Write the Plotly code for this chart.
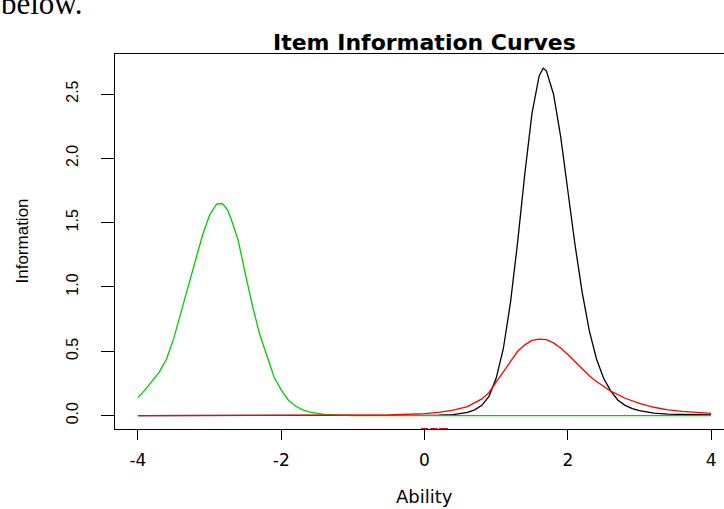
import plotly.graph_objects as go

# ---- data ----
black_x = [-4.0, -2.0, 0.0, 0.2, 0.4, 0.6, 0.7, 0.8, 0.9, 1.0, 1.1, 1.2, 1.3, 1.4, 1.5, 1.6, 1.656,
           1.7, 1.8, 1.9, 2.0, 2.1, 2.2, 2.3, 2.4, 2.5, 2.6, 2.7, 2.8, 2.9, 3.0, 3.2, 3.4, 3.6, 3.8, 4.0]
black_y = [0.0, 0.0, 0.001, 0.003, 0.008, 0.025, 0.045, 0.08, 0.15, 0.29, 0.52, 0.88, 1.35, 1.88, 2.35, 2.64, 2.70,
           2.68, 2.50, 2.17, 1.75, 1.33, 0.96, 0.66, 0.44, 0.29, 0.19, 0.12, 0.08, 0.055, 0.038, 0.02, 0.012, 0.008, 0.006, 0.005]

red_x = [-4.0, -2.0, -1.0, -0.5, 0.0, 0.2, 0.4, 0.6, 0.8, 0.9, 1.0, 1.1, 1.2, 1.3, 1.4, 1.5, 1.6, 1.7, 1.8, 1.9,
         2.0, 2.1, 2.2, 2.3, 2.4, 2.5, 2.6, 2.8, 3.0, 3.2, 3.4, 3.6, 3.8, 4.0]
red_y = [0.0, 0.0005, 0.002, 0.005, 0.015, 0.025, 0.042, 0.07, 0.13, 0.18, 0.26, 0.34, 0.42, 0.50, 0.55, 0.585, 0.595, 0.59, 0.565, 0.525,
         0.475, 0.42, 0.365, 0.31, 0.265, 0.225, 0.19, 0.135, 0.095, 0.065, 0.045, 0.033, 0.024, 0.018]

green_x = [-4.0, -3.9, -3.8, -3.7, -3.6, -3.5, -3.4, -3.3, -3.2, -3.1, -3.0, -2.9, -2.82, -2.75, -2.7, -2.6, -2.5,
           -2.4, -2.3, -2.2, -2.1, -2.0, -1.9, -1.8, -1.7, -1.6, -1.5, -1.4, -1.2, -1.0, 0.0, 4.0]
green_y = [0.14, 0.2, 0.27, 0.34, 0.44, 0.6, 0.8, 1.0, 1.2, 1.4, 1.56, 1.645, 1.648, 1.6, 1.53, 1.36, 1.1,
           0.85, 0.63, 0.46, 0.3, 0.2, 0.12, 0.075, 0.045, 0.028, 0.017, 0.01, 0.004, 0.001, 0.0, 0.0]

rug_x = [0.0, 0.13, 0.25, 0.28]
rug_y = [-0.104, -0.104, -0.104, -0.104]

x_ticks = [-4, -2, 0, 2, 4]
x_ticktext = ["-4", "-2", "0", "2", "4"]
y_ticks = [0.0, 0.5, 1.0, 1.5, 2.0, 2.5]
y_ticktext = ["0.0", "0.5", "1.0", "1.5", "2.0", "2.5"]

title_text = "Item Information Curves"
xlab = "Ability"
ylab = "Information"
page_text = "below."

fig = go.Figure()
fig.add_trace(go.Scatter(x=black_x, y=black_y, mode="lines", line=dict(color="#000000", width=1.3), showlegend=False))
fig.add_trace(go.Scatter(x=green_x, y=green_y, mode="lines", line=dict(color="#00CD00", width=1.3), showlegend=False))
fig.add_trace(go.Scatter(x=red_x, y=red_y, mode="lines", line=dict(color="#FF0000", width=1.3), showlegend=False))
fig.add_trace(go.Scatter(x=rug_x, y=rug_y, mode="markers", cliponaxis=False,
                         marker=dict(symbol="line-ew", size=5, line=dict(color="#FF0000", width=2)), showlegend=False))

axis_font = dict(family="DejaVu Sans, Liberation Sans, Arial", size=17, color="#000000")
fig.update_layout(
    width=724, height=509,
    margin=dict(l=115, r=0, t=54, b=80),
    paper_bgcolor="white", plot_bgcolor="white",
    xaxis=dict(range=[-4.32, 4.18], tickvals=x_ticks, ticktext=x_ticktext, ticks="outside", ticklen=10,
               tickwidth=1, tickcolor="#000000", showline=True, linecolor="#000000", linewidth=1, mirror=True,
               showgrid=False, zeroline=False, tickfont=axis_font, ticklabelstandoff=6),
    yaxis=dict(range=[-0.104, 2.811], tickvals=y_ticks, ticktext=y_ticktext, ticks="outside", ticklen=13,
               tickwidth=1, tickcolor="#000000", showline=True, linecolor="#000000", linewidth=1, mirror=False,
               showgrid=False, zeroline=False, tickangle=-90,
               tickfont=dict(family="Liberation Sans Narrow, Liberation Sans, Arial", size=16, color="#000000"),
               ticklabelstandoff=17),
    annotations=[
        dict(text="<b>" + title_text + "</b>", xref="paper", yref="paper", x=0.5085, y=1.031,
             xanchor="center", yanchor="middle", showarrow=False,
             font=dict(family="DejaVu Sans, Liberation Sans, Arial", size=22, color="#000000")),
        dict(text=xlab, xref="paper", yref="paper", x=0.5085, y=-0.181, xanchor="center", yanchor="middle",
             showarrow=False, font=dict(family="DejaVu Sans, Liberation Sans, Arial", size=18, color="#000000")),
        dict(text=ylab, xref="paper", yref="paper", x=-0.1527, y=0.5, xanchor="center", yanchor="middle",
             textangle=-90, showarrow=False,
             font=dict(family="Liberation Sans Narrow, Liberation Sans, Arial", size=17, color="#000000")),
        dict(text=page_text, xref="paper", yref="paper", x=-0.19, y=1.134, xanchor="left", yanchor="middle",
             showarrow=False, font=dict(family="Liberation Serif, Times New Roman, serif", size=31, color="#000000")),
    ],
)

fig.write_html("out.html")
